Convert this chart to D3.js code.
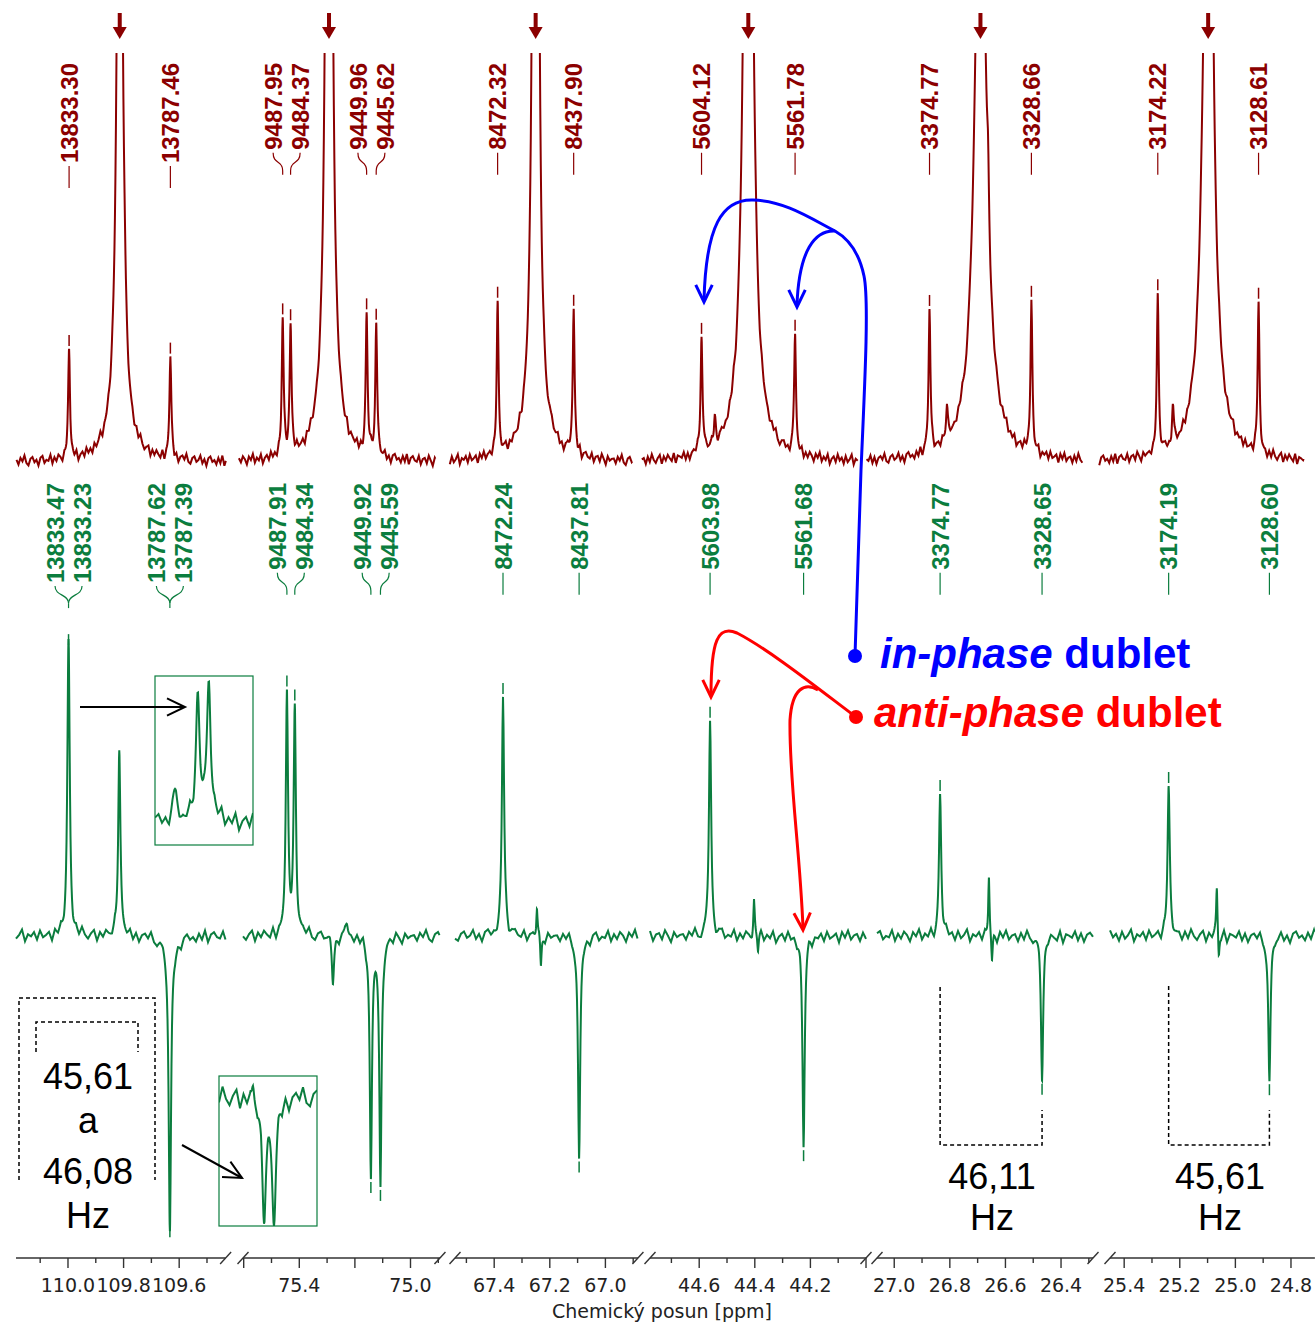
<!DOCTYPE html>
<html>
<head>
<meta charset="utf-8">
<script src="https://cdn.jsdelivr.net/npm/d3@7"></script>
<style>
  body { margin: 0; background: #fff; }
  svg { display: block; }
</style>
</head>
<body>
<svg id="chart" width="1315" height="1331"></svg>
<script>
// ---- data ----
const SF = 125.76;            // MHz, referencing of the axis / green spectrum
const SF_RED = 125.82;        // referencing of the pasted red spectrum
const RED_OFFSET_HZ = 6.4;

// visible ppm window of each broken-axis panel (left, right)
const panelPpm = [[110.187, 109.433], [75.6025, 74.894], [67.541, 66.883], [44.777, 44.0], [27.062, 26.285], [25.451, 24.714]];
const axisLabels = [[110.0, 109.8, 109.6], [75.4, 75.0], [67.4, 67.2, 67.0], [44.6, 44.4, 44.2], [27.0, 26.8, 26.6, 26.4], [25.4, 25.2, 25.0, 24.8]];

// red (top) spectrum: labelled satellites [Hz] and their heights
const redLabels = [[13833.30, 13787.46], [9487.95, 9484.37, 9449.96, 9445.62], [8472.32, 8437.90], [5604.12, 5561.78], [3374.77, 3328.66], [3174.22, 3128.61]];
const redLabelHeights = [[26, 25], [33, 31, 33, 32], [36, 36], [29, 29], [35, 37], [38, 36]];
const redCentreHz = [13810.38, 9466.98, 8455.11, 5582.95, 3351.72, 3151.42];
const redCentreHeight = [234, 361, 660, 317, 171, 193];
const redCentreWidth = [1.18, 1.18, 0.77, 1.68, 2.67, 2.35];
const redBroadHeight = [8, 6, 8, 6, 3, 3];
const redBroadWidth = [5, 6, 6, 6, 8, 8];
const redMinorPanel = [0, 3, 4, 4, 5, 5];
const redMinorHz = [13808.2, 5598.1, 3366.9, 3348.3, 3167.4, 3149.3];
const redMinorHeight = [6, 7, 9, 12, 9, 12];

// green (bottom) spectrum: labelled peaks [Hz] and signed heights
const greenLabels = [[13833.47, 13833.23, 13787.62, 13787.39], [9487.91, 9484.34, 9449.92, 9445.59], [8472.24, 8437.81], [5603.98, 5561.68], [3374.77, 3328.65], [3174.19, 3128.60]];
const greenLabelHeights = [[37.5, 37.5, -36, -36], [58, 55, -59, -61], [59, -55], [53, -51], [34, -34], [36, -36]];
const greenMinorPanel = [0, 0, 1, 1, 2, 2, 3, 3, 4, 4, 5, 5];
const greenMinorHz = [13810.4, 13787.5, 9467.1, 9460.8, 8456.9, 8455.1, 5584.1, 5582.3, 3352.7, 3351.3, 3152.4, 3151.5];
const greenMinorHeight = [46, -3, -11, 3, 7, -8, 9, -4, 15, -7, 12, -6];
const greenMinorWidth = [0.6, 3, 0.6, 0.8, 0.35, 0.35, 0.35, 0.35, 0.35, 0.35, 0.35, 0.35];

// magnified insets of the 110 ppm doublets
const inset1Hz = [13833.47, 13833.23, 13833.97];
const inset1Height = [0.885, 1, 0.18];
const inset1Width = [0.05, 0.05, 0.07];
const inset2Hz = [13787.62, 13787.39, 13787.87];
const inset2Height = [-0.92, -1, 0.13];
const inset2Width = [0.055, 0.055, 0.03];

// coupling constants written under the spectra
const jTexts = [["45,61", "a", "46,08", "Hz"], ["46,11", "Hz"], ["45,61", "Hz"]];

// fixed baseline ripple
const baseNoise = [0.2,-0.6,0.5,-0.1,0.9,-0.4,-0.8,0.3,0.6,-0.3,0.1,-0.9,0.4,0.7,-0.5,0.0,-0.2,0.8,-0.7,0.3,-0.4,0.6,0.1,-0.8,0.5,-0.1,0.9,-0.6,0.2,-0.3,0.7,-0.9,0.0,0.4,-0.5,0.8,-0.2,0.3,-0.7,0.6,-0.4,0.1,0.9,-0.8,0.2,-0.1,0.5,-0.6,0.7,-0.3,0.0,0.4,-0.9,0.6,-0.2,0.8,-0.5,0.1,0.3,-0.7,0.5,-0.4,0.9,-0.1,-0.6,0.2,0.7,-0.8,0.4,-0.3,0.6,0.0,-0.5,0.8,-0.9,0.3,0.1,-0.2,0.7,-0.6,0.4,-0.8,0.2,0.5,-0.1,0.9,-0.4,-0.7,0.3,0.6,-0.3,0.0,0.8,-0.5,0.2,-0.9,0.4,0.7,-0.2,0.1,-0.6,0.5,-0.4,0.9,-0.8,0.3,0.6,-0.1,-0.3,0.7,-0.7,0.2,0.4,-0.5,0.8,0.0,-0.9,0.5,-0.2,0.1];

// ---- layout ----
const PX_PER_PPM = 278;
const panelX0 = [16, 243, 455, 650, 877, 1110];
const RED = "#8b0000", GREEN = "#0b7d3e";
const LABEL_FONT = "'Liberation Sans', Arial, sans-serif";
const AXIS_FONT = "'DejaVu Sans', Verdana, sans-serif";
const axisY = 1258;
const LABEL_GAP = 27;

const svg = d3.select("#chart");

const panels = panelPpm.map((d, i) => {
  const x0 = panelX0[i];
  const x1 = x0 + (d[0] - d[1]) * PX_PER_PPM;
  return { i, x0, x1, xs: d3.scaleLinear().domain(d).range([x0, x1]) };
});

const yRed = d3.scaleLinear().domain([0, 100]).range([462, 52]);
const yGreen = d3.scaleLinear().domain([0, 100]).range([936, 526]);

function lor(hz, p0, h, g) { const d = hz - p0; return h * g * g / (d * d + g * g); }

function noiseAt(t, off) {
  const N = baseNoise.length;
  const k = Math.floor(t), f = t - k;
  const a = baseNoise[((k + off) % N + N) % N], b = baseNoise[((k + 1 + off) % N + N) % N];
  return a * (1 - f) + b * f;
}

const line = d3.line();

svg.append("defs").append("clipPath").attr("id", "redClip")
  .append("rect").attr("x", 0).attr("y", 53).attr("width", 1315).attr("height", 440);

const redToX = (p, hz) => p.xs((hz + RED_OFFSET_HZ) / SF_RED);
const greenToX = (p, hz) => p.xs(hz / SF);

function makeTrace(p, peaks, noiseAmp, step, off) {
  const f = x => {
    const hz = p.xs.invert(x) * SF;
    return d3.sum(peaks, k => lor(hz, k.hz, k.h, k.g)) + noiseAmp * noiseAt((x - p.x0) / step, off);
  };
  const xsList = d3.range(p.x0, p.x1 + 0.01, 0.5);
  peaks.forEach(k => { const xx = p.xs(k.hz / SF); if (xx > p.x0 && xx < p.x1) xsList.push(xx); });
  xsList.sort((a, b) => a - b);
  return { f, xsList };
}

function drawLabels(g, items, color, top) {
  items.sort((a, b) => a.px - b.px);
  const clusters = [];
  items.forEach(it => {
    const c = clusters[clusters.length - 1];
    if (c && it.px - c[c.length - 1].px < LABEL_GAP) c.push(it); else clusters.push([it]);
  });
  clusters.forEach(c => {
    const cx = d3.mean(c, d => d.px);
    const merged = d3.max(c, d => d.px) - d3.min(c, d => d.px) < 2;
    let stem = null;
    c.forEach((d, j) => {
      const lx = c.length > 1 ? cx + (j - (c.length - 1) / 2) * LABEL_GAP : d.px;
      const t = g.append("text")
        .attr("transform", `translate(${lx},${top}) rotate(-90)`)
        .attr("text-anchor", "end").attr("dy", "0.36em")
        .attr("fill", color).style("font-family", LABEL_FONT)
        .style("font-weight", "bold").style("font-size", "24px")
        .text(d3.format(".2f")(d.hz));
      const len = t.node().getComputedTextLength();
      const yA = top + len + 3, yB = top + len + 25;
      if (Math.abs(lx - d.px) < 1.5) {
        g.append("line").attr("x1", lx).attr("x2", lx).attr("y1", yA).attr("y2", yB)
          .attr("stroke", color).attr("stroke-width", 1.2);
      } else if (merged) {
        g.append("path").attr("d", `M${lx},${yA}C${lx},${yA + 10} ${cx},${yA + 8} ${cx},${yA + 17}`)
          .attr("fill", "none").attr("stroke", color).attr("stroke-width", 1.2);
        stem = [cx, yA + 17, yB];
      } else {
        g.append("path").attr("d", `M${lx},${yA}C${lx},${yA + 12} ${d.px},${yA + 7} ${d.px},${yA + 18}L${d.px},${yB}`)
          .attr("fill", "none").attr("stroke", color).attr("stroke-width", 1.2);
      }
    });
    if (stem) g.append("line").attr("x1", stem[0]).attr("x2", stem[0]).attr("y1", stem[1]).attr("y2", stem[2])
      .attr("stroke", color).attr("stroke-width", 1.2);
    // peak markers
    const marks = merged ? [{ px: cx, y: c[0].sign > 0 ? d3.min(c, d => d.y) : d3.max(c, d => d.y), sign: c[0].sign }] : c;
    marks.forEach(m => {
      const y1 = m.sign > 0 ? m.y - 3 : m.y + 3, y2 = m.sign > 0 ? m.y - 14 : m.y + 14;
      if (y2 > 1240) return;
      g.append("line").attr("x1", m.px).attr("x2", m.px).attr("y1", y1).attr("y2", y2)
        .attr("stroke", color).attr("stroke-width", 1.5);
    });
  });
}

// ---- red spectrum ----
const redG = svg.append("g");
panels.forEach(p => {
  const i = p.i;
  const peaks = redLabels[i].map((hz, j) => ({ hz, h: redLabelHeights[i][j], g: 0.5 }));
  peaks.push({ hz: redCentreHz[i], h: redCentreHeight[i], g: redCentreWidth[i] });
  peaks.push({ hz: redCentreHz[i], h: redBroadHeight[i], g: redBroadWidth[i] });
  redMinorPanel.forEach((pi, j) => { if (pi === i) peaks.push({ hz: redMinorHz[j], h: redMinorHeight[j], g: 0.5 }); });
  const tr = makeTrace(p, peaks, 1.45, 2.0, i * 19);
  const pts = tr.xsList.map(x => {
    const hz = p.xs.invert(x) * SF;
    return [redToX(p, hz), yRed(tr.f(x))];
  });
  redG.append("path").attr("d", line(pts)).attr("fill", "none")
    .attr("stroke", RED).attr("stroke-width", 2).attr("clip-path", "url(#redClip)");

  // arrow above the central line
  const cxA = redToX(p, redCentreHz[i]);
  redG.append("rect").attr("x", cxA - 2).attr("y", 13).attr("width", 4).attr("height", 16).attr("fill", RED);
  redG.append("path").attr("d", `M${cxA - 7},27L${cxA + 7},27L${cxA},39Z`).attr("fill", RED);

  const items = redLabels[i].map(hz => {
    const x = p.xs(hz / SF);
    return { hz, px: redToX(p, hz), y: yRed(tr.f(x)), sign: 1 };
  });
  drawLabels(redG, items, RED, 63);
});

// ---- green spectrum ----
const greenG = svg.append("g");
panels.forEach(p => {
  const i = p.i;
  const peaks = greenLabels[i].map((hz, j) => ({ hz, h: greenLabelHeights[i][j], g: 0.6 }));
  greenMinorPanel.forEach((pi, j) => {
    if (pi === i) peaks.push({ hz: greenMinorHz[j], h: greenMinorHeight[j], g: greenMinorWidth[j] });
  });
  const tr = makeTrace(p, peaks, 1.7, 3.0, 40 + i * 23);
  const pts = tr.xsList.map(x => [x, yGreen(tr.f(x))]);
  greenG.append("path").attr("d", line(pts)).attr("fill", "none")
    .attr("stroke", GREEN).attr("stroke-width", 2);

  const items = greenLabels[i].map((hz, j) => {
    const x = greenToX(p, hz);
    return { hz, px: x, y: yGreen(tr.f(x)), sign: Math.sign(greenLabelHeights[i][j]) };
  });
  drawLabels(greenG, items, GREEN, 483);
});

// ---- insets ----
function drawInset(box, hzDom, yDom, yRange, hzs, hs, gs, noiseAmp, off) {
  const xs = d3.scaleLinear().domain(hzDom).range([box.x, box.x + box.w]);
  const ys = d3.scaleLinear().domain(yDom).range(yRange);
  const g = svg.append("g");
  const id = "clip" + off;
  svg.select("defs").append("clipPath").attr("id", id)
    .append("rect").attr("x", box.x).attr("y", box.y).attr("width", box.w).attr("height", box.h);
  const pts = d3.range(box.x, box.x + box.w + 0.01, 0.5).map(x => {
    const hz = xs.invert(x);
    const v = d3.sum(hzs, (h0, j) => lor(hz, h0, hs[j], gs[j])) + noiseAmp * noiseAt((x - box.x) / 3.5, off);
    return [x, ys(v)];
  });
  g.append("path").attr("d", line(pts)).attr("fill", "none").attr("stroke", GREEN)
    .attr("stroke-width", 2).attr("clip-path", `url(#${id})`);
  g.append("rect").attr("x", box.x).attr("y", box.y).attr("width", box.w).attr("height", box.h)
    .attr("fill", "none").attr("stroke", GREEN).attr("stroke-width", 1.2);
}
drawInset({ x: 155, y: 676, w: 98, h: 169 }, [13834.40, 13832.27], [0, 1], [822, 683],
  inset1Hz, inset1Height, inset1Width, 0.075, 7);
drawInset({ x: 219, y: 1076, w: 98, h: 150 }, [13788.654, 13786.40], [0, -1], [1097, 1219],
  inset2Hz, inset2Height, inset2Width, 0.1, 61);

// ---- axis ----
const axisG = svg.append("g");
panels.forEach(p => {
  const [l, r] = panelPpm[p.i];
  axisG.append("line").attr("x1", p.x0).attr("x2", p.x1).attr("y1", axisY).attr("y2", axisY)
    .attr("stroke", "#333").attr("stroke-width", 1.4);
  d3.range(Math.ceil(r * 10), Math.floor(l * 10) + 1).forEach(k => {
    const x = p.xs(k / 10), major = k % 2 === 0;
    axisG.append("line").attr("x1", x).attr("x2", x).attr("y1", axisY).attr("y2", axisY + (major ? 10 : 5))
      .attr("stroke", "#333").attr("stroke-width", 1.4);
  });
  axisLabels[p.i].forEach(v => {
    axisG.append("text").attr("x", p.xs(v)).attr("y", 1292).attr("text-anchor", "middle")
      .attr("fill", "#222").style("font-family", AXIS_FONT).style("font-size", "19px")
      .text(d3.format(".1f")(v));
  });
  const ends = [];
  if (p.i > 0) ends.push(p.x0);
  if (p.i < panels.length - 1) ends.push(p.x1);
  ends.forEach(x => axisG.append("line").attr("x1", x - 5.5).attr("x2", x + 5.5)
    .attr("y1", axisY + 6).attr("y2", axisY - 6).attr("stroke", "#333").attr("stroke-width", 1.4));
});
axisG.append("text").attr("x", 662).attr("y", 1318).attr("text-anchor", "middle")
  .attr("fill", "#222").style("font-family", AXIS_FONT).style("font-size", "19px")
  .text("Chemický posun [ppm]");

// ---- annotations ----
const ann = svg.append("g");
function chevron(tip, dir, len, color, width) {
  const a = Math.atan2(dir[1], dir[0]);
  const p1 = [tip[0] - len * Math.cos(a - 0.45), tip[1] - len * Math.sin(a - 0.45)];
  const p2 = [tip[0] - len * Math.cos(a + 0.45), tip[1] - len * Math.sin(a + 0.45)];
  ann.append("path").attr("d", `M${p1}L${tip}L${p2}`).attr("fill", "none")
    .attr("stroke", color).attr("stroke-width", width).attr("stroke-linejoin", "miter");
}

// black arrows to the insets
ann.append("line").attr("x1", 80).attr("y1", 707).attr("x2", 185).attr("y2", 707)
  .attr("stroke", "#000").attr("stroke-width", 2);
chevron([185, 707], [1, 0], 20, "#000", 2);
ann.append("line").attr("x1", 182).attr("y1", 1145).attr("x2", 242).attr("y2", 1178)
  .attr("stroke", "#000").attr("stroke-width", 2);
chevron([242, 1178], [60, 33], 20, "#000", 2);

// dashed J brackets
const dash = sel => sel.attr("fill", "none").attr("stroke", "#000").attr("stroke-width", 1.5).attr("stroke-dasharray", "4,3");
ann.append("path").attr("d", "M19,1180V998H155V1180").call(dash);
ann.append("path").attr("d", "M36,1052V1022H138V1052").call(dash);
[[4, 3374.77, 3328.65, 987], [5, 3174.19, 3128.60, 986]].forEach(([pi, a, b, y0]) => {
  const xa = greenToX(panels[pi], a), xb = greenToX(panels[pi], b);
  ann.append("path").attr("d", `M${xa},${y0}V1145H${xb}V1110`).call(dash);
});

const jText = (x, y, s) => ann.append("text").attr("x", x).attr("y", y).attr("text-anchor", "middle")
  .attr("fill", "#000").style("font-family", LABEL_FONT).style("font-size", "36px").text(s);
[1089, 1133, 1184, 1228].forEach((y, j) => jText(88, y, jTexts[0][j]));
[1189, 1230].forEach((y, j) => jText(992, y, jTexts[1][j]));
[1189, 1230].forEach((y, j) => jText(1220, y, jTexts[2][j]));

// blue: in-phase
const BLUE = "#0000ff", ARED = "#ff0000";
ann.append("path")
  .attr("d", "M855,656L861,470C865,380 869,300 864,276C859,252 849,239 835,231C810,218 785,201 753,200C722,199 706,226 704,300")
  .attr("fill", "none").attr("stroke", BLUE).attr("stroke-width", 3);
ann.append("path").attr("d", "M835,231C815,230 799,250 797,305")
  .attr("fill", "none").attr("stroke", BLUE).attr("stroke-width", 3);
chevron([704, 302], [0, 1], 19, BLUE, 3);
chevron([797, 307], [0, 1], 19, BLUE, 3);
ann.append("circle").attr("cx", 855).attr("cy", 656).attr("r", 7).attr("fill", BLUE);

// red: anti-phase
ann.append("path").attr("d", "M856,717C820,690 770,650 737,633C718,625 711,640 711,695")
  .attr("fill", "none").attr("stroke", ARED).attr("stroke-width", 3);
ann.append("path").attr("d", "M818,690C805,682 792,688 790,720C789,780 800,850 803,928")
  .attr("fill", "none").attr("stroke", ARED).attr("stroke-width", 3);
chevron([711, 697], [0, 1], 19, ARED, 3);
chevron([803, 930], [0.05, 1], 19, ARED, 3);
ann.append("circle").attr("cx", 856).attr("cy", 717).attr("r", 7).attr("fill", ARED);

const t1 = ann.append("text").attr("x", 880).attr("y", 668).attr("fill", BLUE)
  .style("font-family", LABEL_FONT).style("font-size", "42px").style("font-weight", "bold");
t1.append("tspan").style("font-style", "italic").text("in-phase");
t1.append("tspan").text(" dublet");
const t2 = ann.append("text").attr("x", 874).attr("y", 727).attr("fill", ARED)
  .style("font-family", LABEL_FONT).style("font-size", "42px").style("font-weight", "bold");
t2.append("tspan").style("font-style", "italic").text("anti-phase");
t2.append("tspan").text(" dublet");
</script>
</body>
</html>
